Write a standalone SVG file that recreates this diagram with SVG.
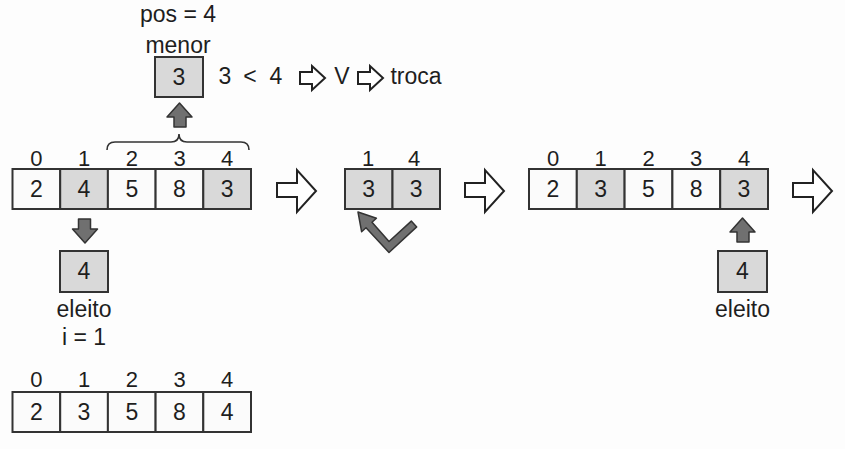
<svg xmlns="http://www.w3.org/2000/svg" width="845" height="449" viewBox="0 0 845 449">
<style>
text{font-family:"Liberation Sans",Arial,sans-serif;fill:#1e1e1e;text-anchor:middle}
.v{font-size:23px}
.ix{font-size:22px}
.lb{font-size:23px}
.c{fill:#fbfbfb;stroke:#333;stroke-width:2}
.g{fill:#d9d9d9;stroke:#333;stroke-width:2}
.ha{fill:#fff;stroke:#222;stroke-width:2;stroke-linejoin:miter}
.da{fill:#707070;stroke:#333;stroke-width:1.5;stroke-linejoin:round}
.br{fill:none;stroke:#333;stroke-width:1.6}
</style>
<defs>
<path id="bigArrow" d="M0,13 H20 V0 L39,21 L20,42 V27 H0 Z"/>
<path id="smallArrow" d="M0,6 H12 V0 L25,12 L12,24 V18 H0 Z"/>
<path id="upArrow" d="M0,0 L12.5,14 H6.5 V24 H-5.5 V14 H-12.5 Z"/>
</defs>
<rect width="845" height="449" fill="#fdfdfd"/>

<g id="label-pos">
<text class="lb" x="178" y="22">pos = 4</text>
<text class="lb" x="178" y="53">menor</text>
</g>

<g id="menor-box">
<rect class="g" x="155" y="57" width="48" height="40"/>
<text class="v" x="179" y="85">3</text>
</g>

<g id="compare">
<text class="lb" x="225" y="84">3</text>
<text class="lb" x="250" y="84">&lt;</text>
<text class="lb" x="276" y="84">4</text>
<use href="#smallArrow" class="ha" x="300" y="66"/>
<text class="lb" x="342" y="84">V</text>
<use href="#smallArrow" class="ha" x="358" y="66"/>
<text class="lb" x="416" y="84">troca</text>
</g>

<g id="array-1">
<text class="ix" x="36.4" y="166">0</text>
<text class="ix" x="84" y="166">1</text>
<text class="ix" x="131.8" y="166">2</text>
<text class="ix" x="179.5" y="166">3</text>
<text class="ix" x="227.2" y="166">4</text>
<rect class="c" x="12.5" y="169" width="47.7" height="40"/>
<rect class="g" x="60.2" y="169" width="47.7" height="40"/>
<rect class="c" x="107.9" y="169" width="47.7" height="40"/>
<rect class="c" x="155.6" y="169" width="47.7" height="40"/>
<rect class="g" x="203.3" y="169" width="47.7" height="40"/>
<text class="v" x="36.4" y="197">2</text>
<text class="v" x="84" y="197">4</text>
<text class="v" x="131.8" y="197">5</text>
<text class="v" x="179.5" y="197">8</text>
<text class="v" x="227.2" y="197">3</text>
</g>

<g id="elected-1">
<rect class="g" x="60" y="251" width="48" height="41"/>
<text class="v" x="84" y="279">4</text>
<text class="lb" x="84" y="317">eleito</text>
<text class="lb" x="84" y="345">i = 1</text>
</g>

<g id="array-swap">
<text class="ix" x="368" y="166">1</text>
<text class="ix" x="414" y="166">4</text>
<rect class="g" x="345" y="169" width="47.5" height="40"/>
<rect class="g" x="392.5" y="169" width="47.5" height="40"/>
<text class="v" x="368.7" y="197">3</text>
<text class="v" x="416.2" y="197">3</text>
</g>

<g id="array-2">
<text class="ix" x="553" y="166">0</text>
<text class="ix" x="600.7" y="166">1</text>
<text class="ix" x="648.5" y="166">2</text>
<text class="ix" x="696.2" y="166">3</text>
<text class="ix" x="744" y="166">4</text>
<rect class="c" x="529" y="169" width="47.8" height="40"/>
<rect class="g" x="576.8" y="169" width="47.8" height="40"/>
<rect class="c" x="624.6" y="169" width="47.8" height="40"/>
<rect class="c" x="672.4" y="169" width="47.8" height="40"/>
<rect class="g" x="720.2" y="169" width="47.8" height="40"/>
<text class="v" x="553" y="197">2</text>
<text class="v" x="600.7" y="197">3</text>
<text class="v" x="648.5" y="197">5</text>
<text class="v" x="696.2" y="197">8</text>
<text class="v" x="744" y="197">3</text>
</g>

<g id="elected-2">
<rect class="g" x="718" y="251" width="49" height="41"/>
<text class="v" x="742.5" y="279">4</text>
<text class="lb" x="742.5" y="317">eleito</text>
</g>

<g id="array-3">
<text class="ix" x="36.4" y="387">0</text>
<text class="ix" x="84" y="387">1</text>
<text class="ix" x="131.8" y="387">2</text>
<text class="ix" x="179.5" y="387">3</text>
<text class="ix" x="227.2" y="387">4</text>
<rect class="c" x="12.5" y="392" width="47.7" height="40"/>
<rect class="c" x="60.2" y="392" width="47.7" height="40"/>
<rect class="c" x="107.9" y="392" width="47.7" height="40"/>
<rect class="c" x="155.6" y="392" width="47.7" height="40"/>
<rect class="c" x="203.3" y="392" width="47.7" height="40"/>
<text class="v" x="36.4" y="420">2</text>
<text class="v" x="84" y="420">3</text>
<text class="v" x="131.8" y="420">5</text>
<text class="v" x="179.5" y="420">8</text>
<text class="v" x="227.2" y="420">4</text>
</g>

<g id="connectors">
<path class="br" d="M107,150 Q107,142 115,142 L171,142 Q179,142 179,134 Q179,142 187,142 L241,142 Q249,142 249,150"/>
<use href="#upArrow" class="da" x="179.5" y="103"/>
<use href="#upArrow" class="da" transform="translate(85,243) rotate(180)"/>
<use href="#upArrow" class="da" x="742.5" y="218"/>
<use href="#bigArrow" class="ha" x="277" y="170"/>
<use href="#bigArrow" class="ha" x="465" y="170"/>
<use href="#bigArrow" class="ha" x="793" y="170"/>
<polygon class="da" points="416.7,226.9 389,252.5 366,227.7 361.6,231.7 358,212 376.4,218.3 372,222.3 389,241.5 411.3,221.1"/>
</g>
</svg>
